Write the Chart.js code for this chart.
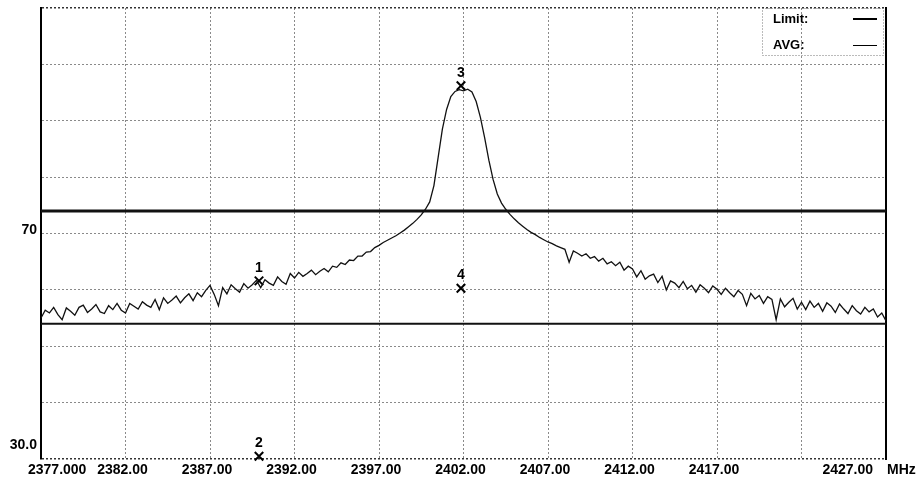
<!DOCTYPE html>
<html>
<head>
<meta charset="utf-8">
<script src="https://cdn.jsdelivr.net/npm/chart.js@4.4.1/dist/chart.umd.min.js"></script>
<style>
  html, body { margin: 0; padding: 0; background: #fff; }
  canvas { display: block; }
</style>
</head>
<body>
<canvas id="spectrum" width="919" height="480"></canvas>
<script>
// sweep: 2377 .. 2427 MHz, one reading every 0.25 MHz
const startFreq = 2377;
const stepFreq = 0.25;
const avgTrace = [
  55.0, 56.4, 55.9, 56.9, 55.6, 54.7, 56.8, 56.2, 55.5, 56.9,
  57.3, 56.0, 56.6, 57.4, 56.1, 55.8, 57.2, 56.5, 57.6, 56.4,
  55.9, 57.6, 57.1, 56.6, 57.9, 57.3, 56.9, 58.3, 56.5, 58.6,
  57.6, 58.2, 58.9, 57.7, 58.6, 59.3, 58.1, 59.5, 58.8, 59.9,
  60.8, 59.2, 57.2, 60.4, 59.3, 60.9, 60.2, 59.6, 61.1, 60.3,
  60.9, 61.7, 60.4, 61.8, 61.2, 60.8, 62.3, 61.5, 61.0, 62.9,
  62.1, 63.1, 62.4, 62.9, 63.5, 62.7, 63.3, 63.8, 63.2, 64.2,
  64.0, 64.8, 64.5, 65.3, 65.2, 66.0, 66.0, 66.7, 66.8, 67.5,
  67.9, 68.4, 68.8, 69.2, 69.6, 70.1, 70.6, 71.2, 71.8, 72.5,
  73.3, 74.3, 75.6, 78.5, 83.5, 88.5, 92.0, 94.3, 95.2, 95.5,
  95.3, 95.6, 95.1, 93.4, 90.6, 87.0, 83.0, 79.6, 77.0, 75.4,
  74.3, 73.4, 72.6, 71.9, 71.3, 70.7, 70.2, 69.8, 69.3, 68.9,
  68.5, 68.2, 67.8, 67.5, 67.2, 64.9, 66.9, 66.5, 66.0, 66.4,
  65.6, 65.9, 65.1, 65.6, 64.6, 65.0, 64.3, 64.9, 63.5, 64.2,
  63.7, 62.3, 63.4, 61.9, 62.5, 62.8, 61.3, 62.4, 60.0, 61.6,
  61.2, 60.4, 61.5, 60.2, 60.8, 59.6, 60.9, 60.3, 59.5, 60.7,
  60.1, 59.2, 60.3, 59.5, 58.8, 59.9, 59.2, 57.2, 59.4, 58.4,
  59.0, 57.6, 58.8, 58.3, 54.7, 58.4, 57.0, 57.8, 58.5, 56.6,
  57.8, 56.5, 58.0, 56.9, 57.6, 56.2, 57.7, 57.1, 56.0, 57.5,
  56.6, 55.8, 57.2, 56.3, 55.7, 56.9, 56.1, 56.6, 55.2, 55.9,
  54.5
];

const limitLevels = [74, 54];

const markerNames = ['1', '2', '3', '4'];
const markerFreqs = [2389.9, 2389.9, 2401.85, 2401.85];
const markerLevels = [61.6, 30.5, 96.2, 60.3];

const xTickValues = [2377, 2382, 2387, 2392, 2397, 2402, 2407, 2412, 2417, 2422, 2427];
const xTickLabels = ['2377.000', '2382.00', '2387.00', '2392.00', '2397.00', '2402.00', '2407.00', '2412.00', '2417.00', '', '2427.00'];
const xUnit = 'MHz';
const yTickValues = [70, 30];
const yTickLabels = ['70', '30.0'];
const legendNames = ['Limit:', 'AVG:'];

const FONT = 'bold 14px "Liberation Sans", Arial, sans-serif';

const tracePoints = avgTrace.map((v, i) => ({ x: startFreq + i * stepFreq, y: v }));
const limitSets = limitLevels.map((lv, i) => ({
    label: i === 0 ? 'Limit' : 'AVG limit',
    data: [{ x: xTickValues[0], y: lv }, { x: xTickValues[xTickValues.length - 1], y: lv }],
    borderColor: '#111',
    borderWidth: i === 0 ? 3 : 2,
    pointRadius: 0
}));

// white background, axis texts, marker numbers and the little legend box
const analyzerDecor = {
    id: 'analyzerDecor',
    beforeDraw(chart) {
        const { ctx } = chart;
        ctx.save();
        ctx.fillStyle = '#fff';
        ctx.fillRect(0, 0, chart.width, chart.height);
        ctx.restore();
    },
    afterDraw(chart) {
        const { ctx, chartArea, scales } = chart;
        ctx.save();
        ctx.fillStyle = '#000';
        ctx.font = FONT;
        ctx.textBaseline = 'middle';

        // frequency labels
        const ly = chartArea.bottom + 11;
        xTickValues.forEach((v, i) => {
            const px = scales.x.getPixelForValue(v);
            if (i === 0) {
                ctx.textAlign = 'left';
                ctx.fillText(xTickLabels[i], px - 13, ly);
            } else if (i === xTickValues.length - 1) {
                ctx.textAlign = 'right';
                ctx.fillText(xTickLabels[i], px - 13, ly);
            } else {
                ctx.textAlign = 'center';
                ctx.fillText(xTickLabels[i], px - 3, ly);
            }
        });
        ctx.textAlign = 'left';
        ctx.fillText(xUnit, chartArea.right + 1, ly);

        // level labels
        ctx.textAlign = 'right';
        yTickValues.forEach((v, i) => {
            let py = scales.y.getPixelForValue(v);
            if (i === yTickValues.length - 1) py -= 14;
            else py -= 3;
            ctx.fillText(yTickLabels[i], chartArea.left - 4, py);
        });

        // marker numbers
        ctx.textAlign = 'center';
        const meta = chart.getDatasetMeta(3);
        meta.data.forEach((pt, i) => {
            ctx.fillText(markerNames[i], pt.x, pt.y - 13);
        });

        // legend box
        const bx = chartArea.right - 124, by = chartArea.top, bw = 121, bh = 47;
        ctx.strokeStyle = '#777';
        ctx.lineWidth = 1;
        ctx.setLineDash([1, 2]);
        ctx.strokeRect(bx + 0.5, by + 0.5, bw, bh);
        ctx.setLineDash([]);
        ctx.textAlign = 'left';
        ctx.font = 'bold 13px "Liberation Sans", Arial, sans-serif';
        ctx.fillText(legendNames[0], bx + 11, by + 11);
        ctx.fillText(legendNames[1], bx + 11, by + 37);
        ctx.strokeStyle = '#000';
        ctx.lineWidth = 2;
        ctx.beginPath(); ctx.moveTo(bx + 91, by + 11); ctx.lineTo(bx + 115, by + 11); ctx.stroke();
        ctx.lineWidth = 1;
        ctx.beginPath(); ctx.moveTo(bx + 91, by + 37.5); ctx.lineTo(bx + 115, by + 37.5); ctx.stroke();
        ctx.restore();
    }
};

new Chart(document.getElementById('spectrum').getContext('2d'), {
    type: 'line',
    data: {
        datasets: [
            {
                label: 'AVG',
                data: tracePoints,
                borderColor: '#111',
                borderWidth: 1.3,
                pointRadius: 0,
                tension: 0
            },
            limitSets[0],
            limitSets[1],
            {
                type: 'scatter',
                label: 'Markers',
                data: markerFreqs.map((f, i) => ({ x: f, y: markerLevels[i] })),
                pointStyle: 'crossRot',
                pointRadius: 6,
                borderColor: '#000',
                borderWidth: 2,
                showLine: false,
                clip: false
            }
        ]
    },
    options: {
        responsive: false,
        animation: false,
        layout: { padding: { left: 41, right: 33, top: 5, bottom: 21 } },
        plugins: {
            legend: { display: false },
            tooltip: { enabled: false }
        },
        scales: {
            x: {
                type: 'linear',
                min: 2377,
                max: 2427,
                ticks: { display: false, stepSize: 5 },
                grid: {
                    drawTicks: false,
                    color: '#8a8a8a',
                    lineWidth: 1
                },
                border: { display: false, dash: [2, 2] }
            },
            y: {
                min: 30,
                max: 110,
                ticks: { display: false, stepSize: 10 },
                grid: {
                    drawTicks: false,
                    color: (c) => (c.tick && (c.tick.value === 30 || c.tick.value === 110)) ? '#333' : '#8a8a8a',
                    lineWidth: (c) => (c.tick && (c.tick.value === 30 || c.tick.value === 110)) ? 1.5 : 1
                },
                border: { display: true, color: '#000', width: 2, dash: [2, 2] }
            },
            yRight: {
                position: 'right',
                min: 30,
                max: 110,
                ticks: { display: false },
                grid: { display: false, drawTicks: false },
                border: { display: true, color: '#000', width: 2 }
            }
        }
    },
    plugins: [analyzerDecor]
});
</script>
</body>
</html>
